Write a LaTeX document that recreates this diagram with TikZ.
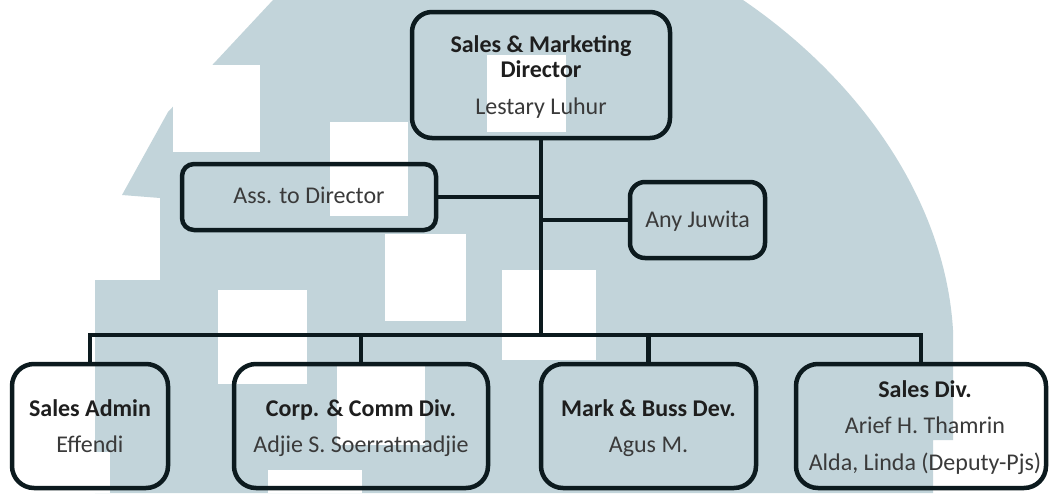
\documentclass[tikz,border=0pt]{standalone}
\usepackage{fontspec}
\setmainfont{Carlito}
\definecolor{wm}{RGB}{194,212,218}
\definecolor{ln}{RGB}{12,26,30}
\definecolor{tbc}{RGB}{30,30,30}
\definecolor{trc}{RGB}{58,58,58}
\begin{document}
\begin{tikzpicture}[x=1pt,y=-1pt,
  box/.style={draw=ln, line width=4.5pt, inner sep=0pt, rounded corners=#1},
  box/.default=22pt,
  conn/.style={draw=ln, line width=4.5pt},
  tbold/.style={anchor=base, inner sep=0pt, text=tbc, font=\fontsize{24}{29}\selectfont\bfseries},
  treg/.style={anchor=base, inner sep=0pt, text=trc, font=\fontsize{24}{29}\selectfont}]
\useasboundingbox (0,0) rectangle (1052,493);
% watermark
\fill[white] (0,0) rectangle (1052,493);
\fill[wm] (273,0) -- (743,0) .. controls (860,80) and (945,200) .. (953,330)
  -- (953,440) -- (933,440) -- (933,493) -- (95,493) -- (95,280) -- (160,280)
  -- (160,198) -- (122,195) -- (168,112) -- (217,60) -- cycle;
\fill[white] (173,65) rectangle (260,152);
\fill[white] (330,122) rectangle (408,216);
\fill[white] (487,55) rectangle (566,132);
\fill[white] (385,234) rectangle (466,321);
\fill[white] (502,270) rectangle (596,360);
\fill[white] (218,290) rectangle (307,384);
\fill[white] (337,365) rectangle (425,445);
\fill[white] (268,470) rectangle (362,493);
\fill[white] (95,452) rectangle (110,493);
% boxes
\node[box=20pt, minimum width=258pt, minimum height=126pt] (top) at (541,75) {};
\node[box=12pt, minimum width=254pt, minimum height=66pt] (ass) at (309,197) {};
\node[box=15pt, minimum width=135pt, minimum height=76pt] (any) at (697.5,220) {};
\node[box, minimum width=156pt, minimum height=124pt] (sa) at (90,426) {};
\node[box, minimum width=254pt, minimum height=124pt] (corp) at (361,426) {};
\node[box, minimum width=215pt, minimum height=124pt] (mark) at (648.5,426) {};
\node[box, minimum width=250pt, minimum height=124pt] (sd) at (921,426) {};
% connectors
\coordinate (bus) at (90,335);
\draw[conn] (top.south) -- (top.south |- bus);
\draw[conn] (sa.north) -- (sa.north |- bus) -| (sd.north);
\draw[conn] (corp.north) -- (corp.north |- bus);
\draw[conn] (mark.north) -- (mark.north |- bus);
\draw[conn] (ass.east) -- (ass.east -| top.south);
\draw[conn] (any.west) -- (any.west -| top.south);
% texts
\node[tbold] (t1) at (541,52) {Sales \& Marketing};
\node[tbold] (t2) at (541,77) {Director};
\node[treg] (t3) at (541,114) {Lestary Luhur};
\node[treg] (t4) at (309,203) {Ass. to Director};
\node[treg] (t5) at (697.5,227) {Any Juwita};
\node[tbold] (t6) at (90,416) {Sales Admin};
\node[treg] (t7) at (90,452) {Effendi};
\node[tbold] (t8) at (361,416) {Corp. \& Comm Div.};
\node[treg] (t9) at (361,452) {Adjie S. Soerratmadjie};
\node[tbold] (t10) at (648.5,416) {Mark \& Buss Dev.};
\node[treg] (t11) at (648.5,452) {Agus M.};
\node[tbold] (t12) at (925,397) {Sales Div.};
\node[treg] (t13) at (925,433) {Arief H. Thamrin};
\node[treg] (t14) at (925,470) {Alda, Linda (Deputy-Pjs)};
\end{tikzpicture}
\end{document}
